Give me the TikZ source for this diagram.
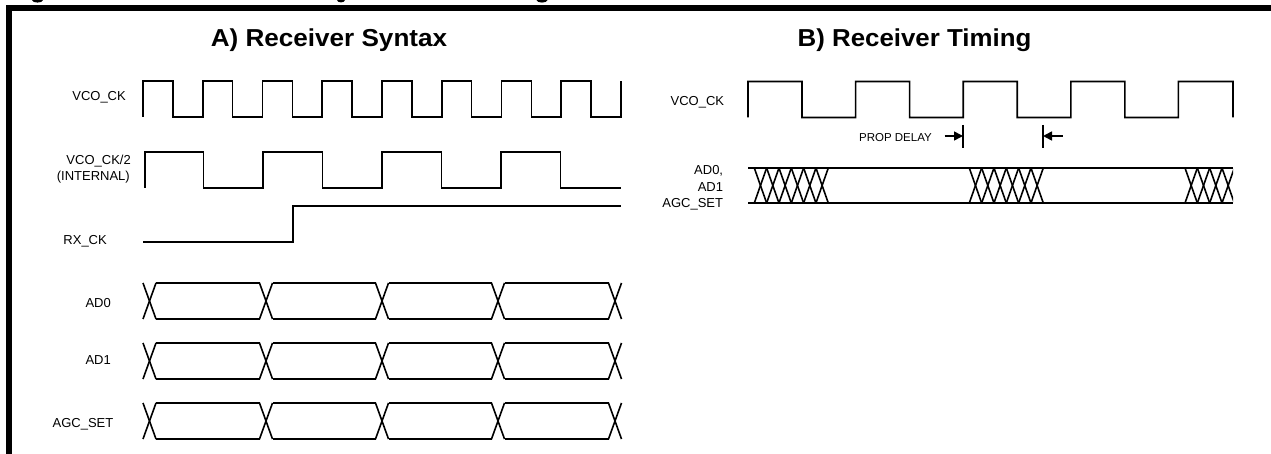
\documentclass[tikz,border=0pt]{standalone}
\usepackage{fontspec}
\setmainfont{Liberation Sans}
\usetikzlibrary{arrows.meta}
\tikzset{
  sig/.style={line width=1.6pt,black,line join=miter},
  lbl/.style={inner sep=0pt,anchor=base east,font=\fontsize{13}{15}\selectfont},
  ttl/.style={inner sep=0pt,anchor=base,font=\fontsize{24.5}{28}\selectfont\bfseries},
  small/.style={inner sep=0pt,anchor=base east,font=\fontsize{11.5}{13}\selectfont},
  frame/.style={fill=black,draw=none},
  delay/.style={line width=1.6pt,-{Triangle[length=9pt,width=9pt]}},
}
\newcommand{\busrow}[2]{% top, bottom
  \foreach \c in {149.5,266,382,498,615}{
    \draw[sig] (\c-6.5,#1) -- (\c+6.5,#2);
    \draw[sig] (\c-6.5,#2) -- (\c+6.5,#1);
  }
  \foreach \a/\b in {156/259.5,272.5/375.5,388.5/491.5,504.5/608.5}{
    \draw[sig] (\a,#1) -- (\b,#1);
    \draw[sig] (\a,#2) -- (\b,#2);
  }
}
\begin{document}
\begin{tikzpicture}[x=1pt,y=-1pt]
\useasboundingbox (0,0) rectangle (1271,454);
\begin{scope}
  \clip (0,0) rectangle (1271,454);
  \fill[frame] (6,5) rectangle (1271,11);
  \fill[frame] (6,5) rectangle (12,454);
  \fill[frame] (37.5,0) ellipse [x radius=5.5,y radius=2.6];
  \fill[frame] (341,0) ellipse [x radius=4,y radius=2.4];
  \fill[frame] (542,0) ellipse [x radius=5.5,y radius=2.6];
\end{scope}

\node[ttl] (ta) at (329,46.7) {\scalebox{1.065}[1]{A) Receiver Syntax}};
\node[ttl] (tb) at (914.5,46.7) {\scalebox{1.055}[1]{B) Receiver Timing}};

\node[lbl] (l1) at (126,100.7) {VCO\_CK};
\node[lbl] (l2) at (131,164.7) {VCO\_CK/2};
\node[lbl] (l3) at (130,180.2) {(INTERNAL)};
\node[lbl] (l4) at (107,244.6) {RX\_CK};
\node[lbl] (l5) at (111,307.6) {AD0};
\node[lbl] (l6) at (111,364) {AD1};
\node[lbl] (l7) at (113.5,427.3) {AGC\_SET};

\node[lbl] (l8) at (724.3,105.6) {VCO\_CK};
\node[lbl] (l9) at (723.3,174.6) {AD0,};
\node[lbl] (l10) at (723.3,191.2) {AD1};
\node[lbl] (l11) at (723.3,207.2) {AGC\_SET};
\node[small] (pd) at (932,141.4) {PROP DELAY};

% A) VCO_CK
\draw[sig] (143,117)
  \foreach \n in {0,...,7}{
    -- (143+\n*59.75,81) -- (172.9+\n*59.75,81) -- (172.9+\n*59.75,117) -- (202.75+\n*59.75,117)
  } -- (621,81);
% A) VCO_CK/2
\draw[sig] (145,188) -- (145,152) -- (203.5,152) -- (203.5,188) -- (263,188) -- (263,152)
  -- (322.5,152) -- (322.5,188) -- (382,188) -- (382,152) -- (441.5,152) -- (441.5,188)
  -- (501,188) -- (501,152) -- (560.5,152) -- (560.5,188) -- (621,188);
% A) RX_CK
\draw[sig] (143,242) -- (293,242) -- (293,206) -- (621,206);
% A) buses
\busrow{283}{319}
\busrow{343}{379}
\busrow{403}{439}

% B) VCO_CK
\draw[sig] (748,117.5)
  \foreach \n in {0,...,3}{
    -- (748+\n*107.6,81.5) -- (802+\n*107.6,81.5) -- (802+\n*107.6,117.5) -- (855.6+\n*107.6,117.5)
  } -- (1178.4,81.5) -- (1233,81.5) -- (1233,117.5);

% B) delay marks
\coordinate (d1a) at (963,125);
\coordinate (d1b) at (963,148);
\coordinate (d2a) at (1043,125);
\coordinate (d2b) at (1043,148);
\coordinate (a1) at (944.5,136);
\coordinate (a2) at (963,136);
\coordinate (a3) at (1062.5,136);
\coordinate (a4) at (1043,136);
\draw[sig] (d1a) -- (d1b);
\draw[sig] (d2a) -- (d2b);
\draw[delay] (a1) -- (a2);
\draw[delay] (a3) -- (a4);

% B) bus
\draw[sig] (748,168) -- (1233,168);
\draw[sig] (748,203) -- (1233,203);
\begin{scope}
  \clip (740,160) rectangle (1233,210);
  \foreach \s/\k in {754.3/5,969.3/5,1185/3}{
    \foreach \i in {0,...,\k}{
      \draw[sig] (\s+\i*12.33,168) -- (\s+\i*12.33+12.33,203);
      \draw[sig] (\s+\i*12.33,203) -- (\s+\i*12.33+12.33,168);
    }
  }
\end{scope}
\end{tikzpicture}
\end{document}
